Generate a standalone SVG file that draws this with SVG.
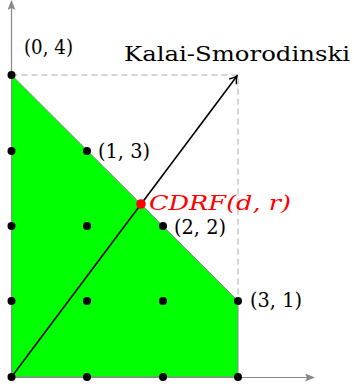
<svg xmlns="http://www.w3.org/2000/svg" width="354" height="387" viewBox="0 0 354 387">
<style>
.axis{stroke:#888;stroke-width:1.2;fill:none}
.dash{stroke:#aaa;stroke-width:1;fill:none;stroke-dasharray:6,4}
.dot{fill:#000}
.lbl{font-family:"DejaVu Serif","Liberation Serif",serif;font-size:20px;fill:#000}
</style>
<defs>
<marker id="ax" markerWidth="10" markerHeight="8" refX="9" refY="4" orient="auto" markerUnits="userSpaceOnUse">
<path d="M0,0 L10,4 L0,8 L2,4 Z" fill="#888"/>
</marker>
<marker id="ar" markerWidth="12" markerHeight="12" refX="10" refY="6" orient="auto" markerUnits="userSpaceOnUse">
<path d="M3,1.5 Q7,5 10,6 Q7,7 3,10.5" fill="none" stroke="#000" stroke-width="1.5"/>
</marker>
</defs>
<g id="region">
<polygon points="11.5,75 238,301 238,377 11.5,377" fill="#00ff00" stroke="#888" stroke-width="1"/>
</g>
<g id="axes">
<line class="axis" x1="11.5" y1="377.5" x2="314" y2="377.5" marker-end="url(#ax)"/>
<line class="axis" x1="11.5" y1="377.5" x2="11.5" y2="1" marker-end="url(#ax)"/>
</g>
<g id="connectors">
<polyline class="dash" points="11.5,75 238,75 238,301"/>
<line x1="11.5" y1="377" x2="237" y2="76" stroke="#000" stroke-width="1.6" marker-end="url(#ar)"/>
</g>
<g id="points">
<circle class="dot" cx="11.5" cy="377" r="4"/>
<circle class="dot" cx="11.5" cy="301" r="4"/>
<circle class="dot" cx="11.5" cy="226" r="4"/>
<circle class="dot" cx="11.5" cy="151" r="4"/>
<circle class="dot" cx="11.5" cy="75" r="4"/>
<circle class="dot" cx="87" cy="377" r="4"/>
<circle class="dot" cx="87" cy="301" r="4"/>
<circle class="dot" cx="87" cy="226" r="4"/>
<circle class="dot" cx="87" cy="151" r="4"/>
<circle class="dot" cx="163" cy="377" r="4"/>
<circle class="dot" cx="163" cy="301" r="4"/>
<circle class="dot" cx="163" cy="226" r="4"/>
<circle class="dot" cx="238" cy="377" r="4"/>
<circle class="dot" cx="238" cy="301" r="4"/>
</g>
<g id="cdrf">
<circle cx="141" cy="204" r="4.8" fill="#ff0000"/>
<text x="149" y="210" font-family="'DejaVu Serif','Liberation Serif',serif" font-size="20" font-style="italic" fill="#ff0000" textLength="142" lengthAdjust="spacingAndGlyphs">CDRF(d, r)</text>
</g>
<g id="labels">
<text class="lbl" x="24" y="54" textLength="49" lengthAdjust="spacingAndGlyphs">(0, 4)</text>
<text class="lbl" x="98" y="158" textLength="52" lengthAdjust="spacingAndGlyphs">(1, 3)</text>
<text class="lbl" x="174" y="234" textLength="52" lengthAdjust="spacingAndGlyphs">(2, 2)</text>
<text class="lbl" x="250" y="307" textLength="52" lengthAdjust="spacingAndGlyphs">(3, 1)</text>
<text class="lbl" x="124" y="61" font-size="21" textLength="226" lengthAdjust="spacingAndGlyphs">Kalai-Smorodinski</text>
</g>
</svg>
